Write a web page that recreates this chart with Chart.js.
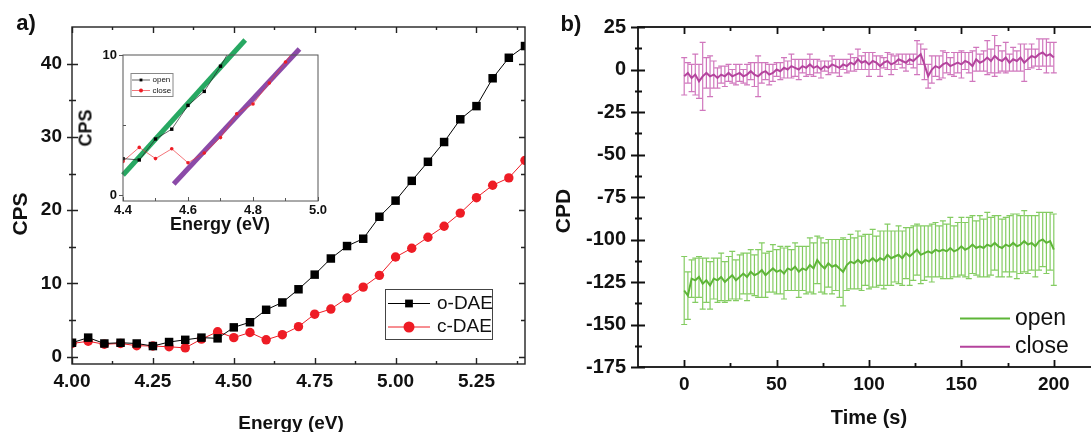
<!DOCTYPE html>
<html>
<head>
<meta charset="utf-8">
<script src="https://cdn.jsdelivr.net/npm/chart.js@4.4.1/dist/chart.umd.min.js"></script>
<style>
  html, body { margin: 0; padding: 0; background: #fff; overflow: hidden; }
  #wrap { position: relative; width: 1091px; height: 432px; overflow: hidden;
          font-family: "Liberation Sans", Arial, sans-serif; color: #111; }
  canvas { position: absolute; }
  .t { position: absolute; font-weight: bold; white-space: nowrap; transform: translate(-50%, -50%); }
  .r { transform: translate(-50%, -50%) rotate(-90deg); }
</style>
</head>
<body>
<div id="wrap">
  <canvas id="cA" width="545" height="432" style="left:0;top:0"></canvas>
  <canvas id="cIn" width="250" height="220" style="left:80px;top:30px"></canvas>
  <canvas id="cB" width="580" height="432" style="left:540px;top:0"></canvas>

  <div class="t" style="left:26px;top:23px;font-size:22px">a)</div>
  <div class="t r" style="left:20px;top:214px;font-size:21px">CPS</div>
  <div class="t" style="left:291px;top:423px;font-size:19px">Energy (eV)</div>
  <div class="t r" style="left:86px;top:128px;font-size:18px">CPS</div>
  <div class="t" style="left:220px;top:224px;font-size:18px">Energy (eV)</div>

  <div class="t" style="left:571px;top:24px;font-size:22px">b)</div>
  <div class="t r" style="left:563px;top:211px;font-size:21px">CPD</div>
  <div class="t" style="left:869px;top:417px;font-size:20px">Time (s)</div>
</div>

<script>
// ---- panel a: photoemission yield ----
const energy = [4.00, 4.05, 4.10, 4.15, 4.20, 4.25, 4.30, 4.35, 4.40, 4.45,
                4.50, 4.55, 4.60, 4.65, 4.70, 4.75, 4.80, 4.85, 4.90, 4.95,
                5.00, 5.05, 5.10, 5.15, 5.20, 5.25, 5.30, 5.35, 5.40];
const oDAE = [1.9, 2.6, 1.8, 1.9, 1.8, 1.45, 2.0, 2.3, 2.6, 2.5,
              4.0, 4.7, 6.4, 7.4, 9.2, 11.2, 13.4, 15.1, 16.1, 19.1,
              21.3, 24.0, 26.6, 29.3, 32.4, 34.2, 38.0, 40.8, 42.4];
const cDAE = [1.8, 2.1, 1.7, 1.8, 1.5, 1.45, 1.35, 1.2, 2.4, 3.4,
              2.6, 3.3, 2.3, 3.0, 4.1, 5.8, 6.5, 8.0, 9.5, 11.1,
              13.6, 14.8, 16.3, 17.8, 19.6, 21.7, 23.4, 24.4, 26.8];
const aXTicks = [4.00, 4.25, 4.50, 4.75, 5.00, 5.25];
const aYTicks = [0, 10, 20, 30, 40];

// inset: linear fits (end points, eV / CPS)
const fitOpenE = [4.40, 4.776], fitOpenC = [1.43, 11.07];
const fitCloseE = [4.556, 4.943], fitCloseC = [0.79, 10.43];
const inXTicks = [4.4, 4.6, 4.8, 5.0];
const inYTicks = [0, 10];

// ---- panel b: CPD vs time ----
const time = [
  0, 2, 4, 6, 8, 10, 12, 14, 16, 18, 20, 22, 24, 26, 28, 30, 32, 34, 36, 38,
  40, 42, 44, 46, 48, 50, 52, 54, 56, 58, 60, 62, 64, 66, 68, 70, 72, 74, 76, 78,
  80, 82, 84, 86, 88, 90, 92, 94, 96, 98, 100, 102, 104, 106, 108, 110, 112, 114, 116, 118,
  120, 122, 124, 126, 128, 130, 132, 134, 136, 138, 140, 142, 144, 146, 148, 150, 152, 154, 156, 158,
  160, 162, 164, 166, 168, 170, 172, 174, 176, 178, 180, 182, 184, 186, 188, 190, 192, 194, 196, 198, 200];
const closeCPD = [
  -4, -2, -5, -3, -7, -4, -2, -4, -3, -5, -3, -4, -2, -4, -3, -2, -4, -3, -1, -3,
  -4, -2, -1, -3, -2, 0, -1, 1, 0, 2, 1, 0, 2, 1, 3, 1, 2, 0, 2, 1,
  3, 2, 1, 3, 2, 4, 3, 6, 4, 5, 3, 5, 4, 2, 4, 5, 3, 4, 6, 5,
  4, 6, 5, 7, 9, 3, -4, 0, 2, 1, 3, 4, 2, 3, 4, 3, 5, 4, 2, 6,
  4, 5, 7, 5, 8, 6, 5, 7, 4, 6, 5, 7, 4, 6, 8, 7, 9, 10, 8, 9, 7];
const closeErr = [
  11, 6, 8, 12, 10, 20, 9, 12, 8, 6, 5, 6, 5, 4, 6, 5, 4, 6, 5, 7,
  12, 6, 5, 6, 5, 4, 5, 6, 5, 7, 5, 6, 4, 5, 6, 5, 4, 5, 3, 4,
  5, 4, 5, 3, 4, 5, 4, 6, 4, 5, 7, 5, 4, 6, 3, 5, 6, 4, 3, 4,
  5, 3, 4, 10, 6, 9, 7, 8, 6, 7, 8, 6, 5, 7, 6, 8, 5, 6, 9, 7,
  5, 6, 10, 7, 12, 8, 6, 9, 5, 7, 6, 8, 11, 6, 7, 5, 9, 8, 10, 7, 9];
const openCPD = [
  -130, -133, -123, -124, -122, -126, -124, -127, -123, -124, -122, -125, -123, -121, -124, -122, -120, -122, -119, -121,
  -120, -118, -121, -119, -117, -119, -118, -120, -117, -118, -116, -119, -117, -118, -115, -117, -112, -115, -117, -114,
  -116, -115, -117, -119, -115, -113, -114, -112, -114, -112, -113, -111, -113, -111, -112, -109, -111, -110, -109, -111,
  -108, -110, -108, -106, -109, -108, -107, -108, -106, -107, -106, -107, -105, -107, -106, -104, -106, -105, -103, -105,
  -104, -105, -103, -104, -102, -104, -105, -103, -104, -102, -104, -103, -101, -103, -102, -104, -101, -100, -102, -101, -106];
const openErr = [
  20, 14, 11, 13, 12, 15, 13, 14, 12, 13, 14, 12, 13, 14, 12, 13, 12, 14, 13, 12,
  14, 16, 13, 12, 14, 13, 14, 15, 13, 12, 14, 15, 13, 14, 16, 15, 14, 16, 15, 14,
  16, 15, 17, 20, 15, 16, 15, 17, 16, 15, 16, 17, 15, 16, 17, 18, 16, 15, 17, 16,
  15, 17, 16, 15, 17, 16, 15, 17, 16, 15, 17, 16, 18, 15, 16, 17, 16, 18, 17, 16,
  18, 17, 19, 17, 16, 18, 17, 16, 18, 17, 19, 17, 18, 17, 16, 18, 17, 16, 18, 17, 21];
const bXTicks = [0, 50, 100, 150, 200];
const bYTicks = [-175, -150, -125, -100, -75, -50, -25, 0, 25];

Chart.defaults.font.family = '"Liberation Sans", Arial, sans-serif';
Chart.defaults.color = '#111';

const pts = (xs, ys) => xs.map((x, i) => ({ x: x, y: ys[i] }));

// Origin-style frame with crossing / inward ticks
const framePlugin = {
  id: 'frame',
  afterDatasetsDraw(chart, args, o) {
    const { ctx, chartArea: a } = chart;
    const sx = chart.scales.x, sy = chart.scales.y;
    const minors = s => {
      const v = s.ticks.map(t => t.value), h = (v[1] - v[0]) / 2;
      return [v[0] - h, ...v.map(t => t + h)].filter(t => t > s.min + 1e-9 && t < s.max - 1e-9);
    };
    const xMaj = sx.ticks.map(t => t.value), yMaj = sy.ticks.map(t => t.value);
    ctx.save();
    ctx.strokeStyle = o.color;
    ctx.lineWidth = o.width;
    ctx.beginPath();
    const xt = (vals, len) => vals.forEach(v => {
      const p = Math.round(sx.getPixelForValue(v)) + 0.5;
      ctx.moveTo(p, a.bottom + len[1]); ctx.lineTo(p, a.bottom - len[0]);
      if (o.top) { ctx.moveTo(p, a.top); ctx.lineTo(p, a.top + len[0]); }
    });
    const yt = (vals, len) => vals.forEach(v => {
      const p = Math.round(sy.getPixelForValue(v)) + 0.5;
      ctx.moveTo(a.left - len[1], p); ctx.lineTo(a.left + len[0], p);
      if (o.right) { ctx.moveTo(a.right, p); ctx.lineTo(a.right - len[0], p); }
    });
    xt(xMaj, o.xMaj); xt(minors(sx), o.xMin);
    yt(yMaj, o.yMaj); yt(minors(sy), o.yMin);
    ctx.stroke();
    ctx.strokeRect(a.left, a.top, a.right - a.left, a.bottom - a.top);
    ctx.restore();
  }
};

// vertical error bars with caps, from dataset.errorBars
const errorPlugin = {
  id: 'errbars',
  beforeDatasetsDraw(chart) {
    const { ctx, chartArea: a } = chart;
    const sx = chart.scales.x, sy = chart.scales.y;
    ctx.save();
    ctx.beginPath();
    ctx.rect(a.left, a.top, a.right - a.left, a.bottom - a.top);
    ctx.clip();
    chart.data.datasets.forEach(ds => {
      if (!ds.errorBars) return;
      ctx.strokeStyle = ds.errorColor;
      ctx.lineWidth = 1.2;
      ctx.beginPath();
      ds.data.forEach((p, i) => {
        const e = ds.errorBars[i];
        const x = sx.getPixelForValue(p.x);
        const y0 = sy.getPixelForValue(p.y - e), y1 = sy.getPixelForValue(p.y + e);
        ctx.moveTo(x, y0); ctx.lineTo(x, y1);
        ctx.moveTo(x - 3, y0); ctx.lineTo(x + 3, y0);
        ctx.moveTo(x - 3, y1); ctx.lineTo(x + 3, y1);
      });
      ctx.stroke();
    });
    ctx.restore();
  }
};

// simple in-plot legend
const keyPlugin = {
  id: 'key',
  afterDraw(chart, args, o) {
    const ctx = chart.ctx;
    ctx.save();
    if (o.box) {
      ctx.fillStyle = '#fff';
      ctx.fillRect(o.box[0], o.box[1], o.box[2], o.box[3]);
      ctx.strokeStyle = o.boxColor;
      ctx.lineWidth = 1;
      ctx.strokeRect(o.box[0] + 0.5, o.box[1] + 0.5, o.box[2], o.box[3]);
    }
    o.items.forEach((idx, k) => {
      const ds = chart.data.datasets[idx];
      const y = o.y + k * o.dy;
      ctx.strokeStyle = ds.borderColor;
      ctx.lineWidth = o.lineWidth;
      ctx.beginPath(); ctx.moveTo(o.x0, y); ctx.lineTo(o.x1, y); ctx.stroke();
      if (o.marker) {
        ctx.fillStyle = ds.backgroundColor;
        Chart.helpers.drawPoint(ctx, { pointStyle: ds.pointStyle, radius: o.marker, borderWidth: 0, rotation: 0 }, (o.x0 + o.x1) / 2, y);
      }
      ctx.fillStyle = '#111';
      ctx.font = o.font;
      ctx.textBaseline = 'middle';
      ctx.fillText(ds.label, o.tx, y);
    });
    ctx.restore();
  }
};

const axis = (min, max, ticks, fmt, size, padding, fit) => ({
  type: 'linear', min: min, max: max,
  afterBuildTicks: s => { s.ticks = ticks.map(v => ({ value: v })); },
  afterFit: fit,
  grid: { display: false, drawTicks: false },
  border: { display: false },
  ticks: { padding: padding, autoSkip: false, maxRotation: 0, color: '#111',
           font: { size: size, weight: 'bold' }, callback: fmt }
});

// panel a
new Chart(document.getElementById('cA'), {
  type: 'line',
  data: {
    datasets: [
      { label: 'o-DAE', data: pts(energy, oDAE), borderColor: '#000', backgroundColor: '#000',
        borderWidth: 1, pointStyle: 'rect', pointRadius: 6, pointBorderWidth: 0 },
      { label: 'c-DAE', data: pts(energy, cDAE), borderColor: '#ee1c25', backgroundColor: '#ee1c25',
        borderWidth: 1, pointStyle: 'circle', pointRadius: 4.7, pointBorderWidth: 0 }
    ]
  },
  options: {
    responsive: false, animation: false,
    layout: { padding: { top: 27, right: 20, left: 0, bottom: 0 } },
    scales: {
      x: axis(4.0, 5.4, aXTicks, v => v.toFixed(2), 19, 6, s => { s.height = 68; }),
      y: axis(-1, 45, aYTicks, v => String(v), 19, 10, s => { s.width = 72; })
    },
    plugins: {
      legend: { display: false }, tooltip: { enabled: false },
      frame: { color: '#222', width: 1.4, xMaj: [6, 0], xMin: [3, 0], yMaj: [6, 5], yMin: [4, 3], top: true, right: true },
      key: { box: [385, 289, 107, 50], boxColor: '#444', items: [0, 1], y: 303.5, dy: 23.5,
             x0: 388, x1: 430, tx: 437, lineWidth: 1, marker: 5.5, font: '19px "Liberation Sans", Arial, sans-serif' }
    }
  },
  plugins: [framePlugin, keyPlugin]
});

// inset of panel a
new Chart(document.getElementById('cIn'), {
  type: 'line',
  data: {
    datasets: [
      { label: 'open', data: pts(energy, oDAE), borderColor: '#222', backgroundColor: '#000',
        borderWidth: 0.7, pointStyle: 'rect', pointRadius: 2.4, pointBorderWidth: 0 },
      { label: 'close', data: pts(energy, cDAE), borderColor: '#ee3a40', backgroundColor: '#ee1c25',
        borderWidth: 0.7, pointStyle: 'circle', pointRadius: 1.8, pointBorderWidth: 0 },
      { label: 'fit open', data: pts(fitOpenE, fitOpenC), borderColor: '#27a862', borderWidth: 5,
        pointRadius: 0, clip: false },
      { label: 'fit close', data: pts(fitCloseE, fitCloseC), borderColor: '#8b4aa8', borderWidth: 5,
        pointRadius: 0, clip: false }
    ]
  },
  options: {
    responsive: false, animation: false,
    layout: { padding: { top: 25, right: 12, left: 0, bottom: 0 } },
    scales: {
      x: axis(4.4, 5.0, inXTicks, v => v.toFixed(1), 13, 2, s => { s.height = 49; }),
      y: axis(-0.43, 10, inYTicks, v => String(v), 13, 6, s => { s.width = 43; })
    },
    plugins: {
      legend: { display: false }, tooltip: { enabled: false },
      frame: { color: '#555', width: 1, xMaj: [4, 0], xMin: [3, 0], yMaj: [0, 4], yMin: [3, 0], top: false, right: false },
      key: { box: [50.5, 43, 42, 23], boxColor: '#888', items: [0, 1], y: 50, dy: 10.5,
             x0: 52, x1: 70, tx: 72.5, lineWidth: 0.7, marker: 2, font: '8px "Liberation Sans", Arial, sans-serif' }
    }
  },
  plugins: [framePlugin, keyPlugin]
});

// panel b
new Chart(document.getElementById('cB'), {
  type: 'line',
  data: {
    datasets: [
      { label: 'open', data: pts(time, openCPD), errorBars: openErr, errorColor: 'rgba(110,195,70,0.85)',
        borderColor: '#5db537', backgroundColor: '#5db537', borderWidth: 2, pointRadius: 0 },
      { label: 'close', data: pts(time, closeCPD), errorBars: closeErr, errorColor: 'rgba(200,95,178,0.85)',
        borderColor: '#b4439d', backgroundColor: '#b4439d', borderWidth: 2, pointRadius: 0 }
    ]
  },
  options: {
    responsive: false, animation: false,
    layout: { padding: { top: 27, right: 20, left: 0, bottom: 0 } },
    scales: {
      x: axis(-25, 225, bXTicks, v => String(v), 19, 6, s => { s.height = 65; }),
      y: axis(-175, 25, bYTicks, v => String(v), 20, 12, s => { s.width = 98; })
    },
    plugins: {
      legend: { display: false }, tooltip: { enabled: false },
      frame: { color: '#111', width: 1.8, xMaj: [7, 0], xMin: [4, 0], yMaj: [7, 7], yMin: [4, 3], top: true, right: true },
      key: { items: [0, 1], y: 318.5, dy: 28.3, x0: 420, x1: 470, tx: 475, lineWidth: 2,
             font: '23px "Liberation Sans", Arial, sans-serif' }
    }
  },
  plugins: [errorPlugin, framePlugin, keyPlugin]
});
</script>
</body>
</html>
